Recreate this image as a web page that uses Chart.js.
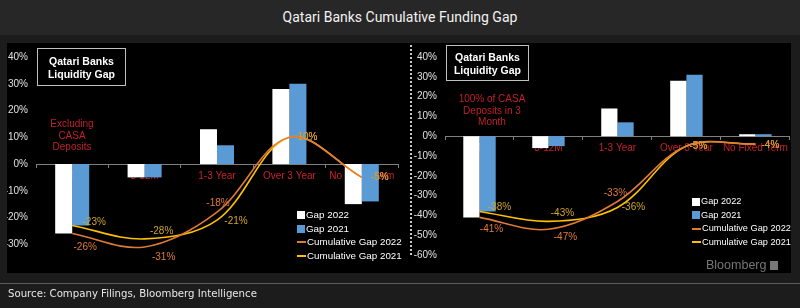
<!DOCTYPE html>
<html>
<head>
<meta charset="utf-8">
<script src="https://cdn.jsdelivr.net/npm/chart.js@4"></script>
<style>
  body { margin:0; width:800px; height:308px; background:#1c1c1c; position:relative; overflow:hidden;
         font-family:"Liberation Sans", Arial, sans-serif; }
  #titlebar { position:absolute; left:0; top:0; width:800px; height:35px; background:#272727;
              color:#f2f2f2; font:14px Roboto, sans-serif; text-align:center; line-height:35px; }
  #panel { position:absolute; left:7px; top:43px; width:784px; height:230px; background:#000; }
  .cv { position:absolute; top:43px; }
  #sep { position:absolute; left:410px; top:45px; width:2px; height:210px;
         background:repeating-linear-gradient(to bottom, #c8c8c8 0 2px, transparent 2px 4px); }
  .box { position:absolute; border:1px solid #bfbfbf; color:#fff; font-weight:bold; font-size:10.5px;
         text-align:center; line-height:12.5px; box-sizing:border-box; padding-top:6px; }
  .note { position:absolute; color:#c0202a; font-size:10px; text-align:center; line-height:11.5px; }
  .legend { position:absolute; color:#fff; }
  .legend div { height:13.5px; line-height:13.5px; white-space:nowrap; }
  .sw { display:inline-block; vertical-align:middle; margin-right:1px; }
  #rule { position:absolute; left:0; top:283px; width:800px; height:1px; background:#5c5c5c; }
  #source { position:absolute; left:8px; top:285px; color:#e6e6e6;
            font:11.3px "DejaVu Sans Condensed", "DejaVu Sans", sans-serif; line-height:17px; }
  #bbg { position:absolute; left:706px; top:258px; color:#777; font-size:12.5px; }
  #bbg span { display:inline-block; width:8px; height:9px; background:#777; margin-left:4px; vertical-align:-1px; }
</style>
</head>
<body>
<div id="titlebar">Qatari Banks Cumulative Funding Gap</div>
<div id="panel"></div>
<div class="cv" style="left:7px;width:398px;height:248px;"><canvas id="leftChart"></canvas></div>
<div class="cv" style="left:412px;width:379px;height:230px;"><canvas id="rightChart"></canvas></div>
<div id="sep"></div>

<div class="box" style="left:37px;top:48px;width:89px;height:38px;">Qatari Banks<br>Liquidity Gap</div>
<div class="box" style="left:446px;top:45px;width:83px;height:36px;padding-top:5px;">Qatari Banks<br>Liquidity Gap</div>
<div class="note" style="left:32px;top:118px;width:80px;">Excluding<br>CASA<br>Deposits</div>
<div class="note" style="left:447px;top:93px;width:90px;">100% of CASA<br>Deposits in 3<br>Month</div>

<div class="legend" id="legendLeft" style="left:297px;top:208px;font-size:9.8px;"></div>
<div class="legend" id="legendRight" style="left:692px;top:195px;font-size:9.2px;"></div>

<div id="bbg">Bloomberg<span></span></div>
<div id="rule"></div>
<div id="source">Source: Company Filings, Bloomberg Intelligence</div>

<script>
// categories and values
const categories = ['3M', '3-12M', '1-3 Year', 'Over 3 Year', 'No Fixed Term'];
const seriesNames = ['Gap 2022', 'Gap 2021', 'Cumulative Gap 2022', 'Cumulative Gap 2021'];

// left: excluding CASA deposits
const leftGap2022 = [-26, -5, 13, 28, -15];
const leftGap2021 = [-23, -5, 7, 30, -14];
const leftCum2022 = [-26, -31, -18, 10, -5];
const leftCum2021 = [-23, -28, -21, 10, -5];

// right: 100% of CASA deposits in 3 month
const rightGap2022 = [-41, -6, 14, 28, 1];
const rightGap2021 = [-38, -5, 7, 31, 1];
const rightCum2022 = [-41, -47, -33, -5, -4];
const rightCum2021 = [-38, -43, -36, -5, -4];

const colors = ['#ffffff', '#5b9bd5', '#e07a35', '#ffc000'];
const labelColors = ['#e07a3a', '#cfa52c'];

// where each value label sits relative to its point (dx, dy)
const leftOffsets22 = [[13, 14], [19, 10], [1, -9], [18, 0], [18, 0]];
const leftOffsets21 = [[22, -3], [17, -8], [19, 1], [18, 0], [18, 0]];
const rightOffsets22 = [[12, 12], [17, 8], [-2, -8], [12, 0], [15, 1]];
const rightOffsets21 = [[20, -4], [14, -8], [16, 0], [12, 0], [15, 1]];

Chart.defaults.font.family = '"Liberation Sans", Arial, sans-serif';
Chart.defaults.font.size = 10;

const pointLabels = {
    id: 'pointLabels',
    afterDatasetsDraw(chart) {
        const ctx = chart.ctx;
        ctx.save();
        ctx.font = '10px "Liberation Sans", Arial, sans-serif';
        ctx.textAlign = 'center';
        ctx.textBaseline = 'middle';
        chart.data.datasets.forEach((ds, i) => {
            if (!ds.labelOffsets) return;
            const meta = chart.getDatasetMeta(i);
            meta.data.forEach((pt, j) => {
                const off = ds.labelOffsets[j];
                ctx.fillStyle = ds.labelColor;
                ctx.fillText(ds.data[j] + '%', pt.x + off[0], pt.y + off[1]);
            });
        });
        ctx.restore();
    }
};

function makeChart(id, gap22, gap21, cum22, cum21, offs22, offs21, yMin, hideMin, yWidth, pad) {
    const lineDs = (name, data, color, lcolor, offs) => ({
        type: 'line', label: name, data: data, borderColor: color, backgroundColor: color,
        borderWidth: 1.6, pointRadius: 0, tension: 0.35, fill: false, order: 0,
        labelColor: lcolor, labelOffsets: offs
    });
    return new Chart(document.getElementById(id), {
        type: 'bar',
        data: {
            labels: categories,
            datasets: [
                { label: seriesNames[0], data: gap22, backgroundColor: colors[0], order: 1,
                  categoryPercentage: 0.47, barPercentage: 1 },
                { label: seriesNames[1], data: gap21, backgroundColor: colors[1], order: 1,
                  categoryPercentage: 0.47, barPercentage: 1 },
                lineDs(seriesNames[2], cum22, colors[2], labelColors[0], offs22),
                lineDs(seriesNames[3], cum21, colors[3], labelColors[1], offs21)
            ]
        },
        options: {
            responsive: true,
            maintainAspectRatio: false,
            animation: false,
            layout: { padding: pad },
            plugins: { legend: { display: false }, tooltip: { enabled: false } },
            scales: {
                x: {
                    position: { y: 0 },
                    offset: true,
                    afterFit(s) { s.height = 0; },
                    grid: { display: true, drawOnChartArea: false, drawTicks: true, tickLength: 3,
                            color: '#808080', offset: true },
                    border: { display: true, color: '#808080' },
                    ticks: { color: '#c8202c', padding: 3, maxRotation: 0, autoSkip: false,
                             font: { size: 10 } }
                },
                y: {
                    min: yMin, max: 40,
                    grid: { display: false, drawTicks: false },
                    border: { display: false },
                    afterFit(s) { s.width = yWidth; },
                    ticks: {
                        stepSize: 10, color: '#e0e0e0', padding: 8, font: { size: 10 },
                        callback: v => (hideMin && v === yMin) ? '' : v + '%'
                    }
                }
            }
        },
        plugins: [pointLabels]
    });
}

makeChart('leftChart', leftGap2022, leftGap2021, leftCum2022, leftCum2021,
          leftOffsets22, leftOffsets21, -40, true, 29, { top: 14, bottom: 20, left: 0, right: 7 });
makeChart('rightChart', rightGap2022, rightGap2021, rightCum2022, rightCum2021,
          rightOffsets22, rightOffsets21, -60, false, 33, { top: 11, bottom: 18, left: 0, right: 1 });

// legends, same for both panels
function buildLegend(el) {
    seriesNames.forEach((name, i) => {
        const row = document.createElement('div');
        const sw = document.createElement('span');
        sw.className = 'sw';
        if (i < 2) { sw.style.width = '8px'; sw.style.height = '8px'; }
        else { sw.style.width = '9px'; sw.style.height = '2px'; }
        sw.style.background = colors[i];
        row.appendChild(sw);
        row.appendChild(document.createTextNode(name));
        el.appendChild(row);
    });
}
buildLegend(document.getElementById('legendLeft'));
buildLegend(document.getElementById('legendRight'));
</script>
</body>
</html>
